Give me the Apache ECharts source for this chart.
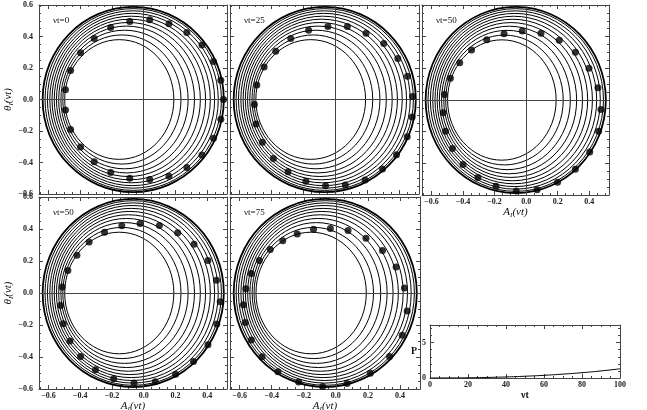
<!DOCTYPE html>
<html><head><meta charset="utf-8">
<script src="https://cdn.jsdelivr.net/npm/echarts@6/dist/echarts.min.js"></script>
<style>html,body{margin:0;padding:0;background:#fff}#c{width:647px;height:410px}</style>
</head><body><div id="c"></div>
<script>
// ---- data ----
// nested closed curves (outer -> inner): left crossing, right crossing, half height
const curveLeft  = [-0.637,-0.622,-0.607,-0.592,-0.578,-0.564,-0.550,-0.536,-0.522,-0.510,-0.498];
const curveRight = [0.505,0.490,0.470,0.447,0.420,0.390,0.357,0.320,0.280,0.235,0.190];
const curveTop   = [0.588,0.577,0.563,0.547,0.529,0.510,0.489,0.466,0.440,0.410,0.380];

const dotsVt0 = [[-0.088,0.496],[0.038,0.506],[0.159,0.481],[0.272,0.425],[0.367,0.346],[0.440,0.242],[0.486,0.122],[0.503,0.000],[0.486,-0.126],[0.440,-0.246],[0.367,-0.353],[0.272,-0.432],[0.159,-0.487],[0.038,-0.508],[-0.088,-0.500],[-0.208,-0.464],[-0.312,-0.395],[-0.398,-0.301],[-0.461,-0.190],[-0.493,-0.066],[-0.493,0.062],[-0.461,0.184],[-0.398,0.297],[-0.312,0.387],[-0.208,0.457]];
const dotsVt25 = [[-0.046,0.464],[0.076,0.464],[0.193,0.421],[0.304,0.355],[0.392,0.261],[0.453,0.147],[0.484,0.019],[0.482,-0.111],[0.451,-0.237],[0.384,-0.351],[0.296,-0.442],[0.187,-0.511],[0.063,-0.543],[-0.061,-0.547],[-0.184,-0.519],[-0.296,-0.459],[-0.388,-0.374],[-0.457,-0.271],[-0.497,-0.156],[-0.507,-0.032],[-0.492,0.092],[-0.446,0.207],[-0.373,0.306],[-0.279,0.387],[-0.167,0.440]];
const dotsVt50a = [[-0.025,0.436],[0.094,0.421],[0.210,0.378],[0.312,0.301],[0.398,0.201],[0.455,0.077],[0.474,-0.060],[0.459,-0.197],[0.403,-0.329],[0.312,-0.438],[0.199,-0.519],[0.069,-0.567],[-0.063,-0.575],[-0.191,-0.545],[-0.306,-0.490],[-0.400,-0.408],[-0.467,-0.306],[-0.511,-0.197],[-0.526,-0.081],[-0.518,0.034],[-0.480,0.138],[-0.421,0.235],[-0.346,0.316],[-0.250,0.380],[-0.140,0.419]];
const dotsVt50b = [[-0.023,0.435],[0.099,0.422],[0.214,0.376],[0.317,0.304],[0.405,0.203],[0.459,0.080],[0.482,-0.055],[0.461,-0.194],[0.405,-0.323],[0.314,-0.428],[0.201,-0.508],[0.073,-0.555],[-0.061,-0.563],[-0.189,-0.536],[-0.304,-0.479],[-0.398,-0.397],[-0.465,-0.300],[-0.507,-0.192],[-0.524,-0.078],[-0.514,0.038],[-0.478,0.141],[-0.421,0.236],[-0.344,0.319],[-0.247,0.380],[-0.138,0.420]];
const dotsVt75 = [[-0.139,0.399],[-0.034,0.403],[0.076,0.390],[0.188,0.342],[0.291,0.266],[0.376,0.162],[0.428,0.032],[0.445,-0.112],[0.414,-0.264],[0.335,-0.397],[0.215,-0.502],[0.070,-0.565],[-0.082,-0.584],[-0.232,-0.557],[-0.361,-0.492],[-0.460,-0.399],[-0.527,-0.293],[-0.565,-0.184],[-0.576,-0.074],[-0.561,0.027],[-0.527,0.122],[-0.477,0.203],[-0.409,0.272],[-0.331,0.327],[-0.241,0.369]];

const panelLabels = ['νt=0','νt=25','νt=50','νt=50','νt=75'];
const xMajorTicks = [-0.6,-0.4,-0.2,0,0.2,0.4];
const yMajorTicks = [-0.6,-0.4,-0.2,0,0.2,0.4,0.6];

const pTime   = [0,10,20,30,40,50,60,70,80,90,100];
const pValues = [0,0.01,0.03,0.08,0.15,0.25,0.38,0.55,0.75,1.0,1.3];
const pXTicks = [0,20,40,60,80,100];
const pYTicks = [0,5];

// ---- layout / styling ----
const X_MIN = -0.66, X_MAX = 0.525, Y_MIN = -0.6, Y_MAX = 0.6;
const frameColor = '#444';
const labelFont = {fontFamily:'Liberation Serif', fontSize:8, fontWeight:'bold', color:'#222'};
function minorList(a, b, step, majors) {
  const out = [];
  for (let v = a; v <= b + 1e-9; v += step) {
    const r = Math.round(v * 1000) / 1000;
    if (!majors.some(m => Math.abs(m - r) < 1e-6)) out.push(r);
  }
  return out;
}
const xMinorTicks = minorList(-0.65, 0.5, 0.05, xMajorTicks);
const yMinorTicks = minorList(-0.6, 0.6, 0.05, yMajorTicks);
const fmt = v => (v < 0 ? '−' : '') + Math.abs(v).toFixed(1);

const panels = [
  {grid:{left:39, top:5, width:188, height:189}, dots:dotsVt0, xl:false, yl:true},
  {grid:{left:230, top:5, width:189, height:189}, dots:dotsVt25, xl:false, yl:false},
  {grid:{left:422, top:5, width:187, height:190}, dots:dotsVt50a, xl:true, yl:false},
  {grid:{left:39, top:197, width:188, height:192}, dots:dotsVt50b, xl:true, yl:true},
  {grid:{left:230, top:197, width:190, height:192}, dots:dotsVt75, xl:true, yl:false}
];

const grids = [], xAxes = [], yAxes = [], series = [], titles = [];
const nameRich = {
  i:{fontFamily:'Liberation Serif', fontStyle:'italic', fontSize:11, color:'#111'},
  s:{fontFamily:'Liberation Serif', fontStyle:'italic', fontSize:7, color:'#111', padding:[6,0,0,0]}
};

function addBox(gi, xr, yr, xMaj, xMin, yMaj, yMin, xLab, yLab, xName, yName, xFmt, yFmt, xNameGap, yNameGap, xNameStyle, yNameStyle, yNameRotate) {
  const xi = xAxes.length, yi = yAxes.length;
  const common = (min, max) => ({gridIndex:gi, type:'value', min, max, splitLine:{show:false}, axisPointer:{show:false}});
  xAxes.push(Object.assign(common(xr[0], xr[1]), {
    position:'bottom',
    axisLine:{show:true, onZero:false, lineStyle:{color:frameColor, width:1}},
    axisTick:{show:true, inside:true, length:4, customValues:xMaj, lineStyle:{color:frameColor}},
    axisLabel:{show:xLab, customValues:xMaj, formatter:xFmt, margin:3, ...labelFont},
    name:xName || '', nameLocation:'middle', nameGap:xNameGap, nameTextStyle:xNameStyle
  }));
  xAxes.push(Object.assign(common(xr[0], xr[1]), {position:'bottom', axisLine:{show:false, onZero:false},
    axisTick:{show:true, inside:true, length:2, customValues:xMin, lineStyle:{color:frameColor}}, axisLabel:{show:false}}));
  xAxes.push(Object.assign(common(xr[0], xr[1]), {position:'top',
    axisLine:{show:true, onZero:false, lineStyle:{color:frameColor, width:1}},
    axisTick:{show:true, inside:true, length:4, customValues:xMaj, lineStyle:{color:frameColor}}, axisLabel:{show:false}}));
  xAxes.push(Object.assign(common(xr[0], xr[1]), {position:'top', axisLine:{show:false, onZero:false},
    axisTick:{show:true, inside:true, length:2, customValues:xMin, lineStyle:{color:frameColor}}, axisLabel:{show:false}}));
  yAxes.push(Object.assign(common(yr[0], yr[1]), {
    position:'left',
    axisLine:{show:true, onZero:false, lineStyle:{color:frameColor, width:1}},
    axisTick:{show:true, inside:true, length:4, customValues:yMaj, lineStyle:{color:frameColor}},
    axisLabel:{show:yLab, customValues:yMaj, formatter:yFmt, margin:6, ...labelFont},
    name:yName || '', nameLocation:'middle', nameGap:yNameGap, nameTextStyle:yNameStyle, nameRotate:yNameRotate
  }));
  yAxes.push(Object.assign(common(yr[0], yr[1]), {position:'left', axisLine:{show:false, onZero:false},
    axisTick:{show:true, inside:true, length:2, customValues:yMin, lineStyle:{color:frameColor}}, axisLabel:{show:false}}));
  yAxes.push(Object.assign(common(yr[0], yr[1]), {position:'right',
    axisLine:{show:true, onZero:false, lineStyle:{color:frameColor, width:1}},
    axisTick:{show:true, inside:true, length:4, customValues:yMaj, lineStyle:{color:frameColor}}, axisLabel:{show:false}}));
  yAxes.push(Object.assign(common(yr[0], yr[1]), {position:'right', axisLine:{show:false, onZero:false},
    axisTick:{show:true, inside:true, length:2, customValues:yMin, lineStyle:{color:frameColor}}, axisLabel:{show:false}}));
  return [xi, yi];
}

const curveData = curveLeft.map((l, i) => [l, curveRight[i], curveTop[i], i]);

panels.forEach((p, gi) => {
  grids.push(Object.assign({containLabel:false, outerBoundsMode:'none'}, p.grid));
  const [xi, yi] = addBox(gi, [X_MIN, X_MAX], [Y_MIN, Y_MAX], xMajorTicks, xMinorTicks, yMajorTicks, yMinorTicks,
    p.xl, p.yl,
    p.xl ? '{i|A}{s|I}{i|(νt)}' : '', p.yl ? '{i|θ}{s|I}{i|(νt)}' : '',
    fmt, fmt, 10, 22, {rich:nameRich}, {rich:nameRich}, 90);
  series.push({
    type:'custom', xAxisIndex:xi, yAxisIndex:yi, silent:true, animation:false,
    data:curveData,
    encode:{x:[0,1], y:2},
    renderItem:(params, api) => {
      const L = api.value(0), R = api.value(1), T = api.value(2), idx = api.value(3);
      const pL = api.coord([L, 0]), pR = api.coord([R, 0]), pT = api.coord([(L + R) / 2, T]);
      return {type:'ellipse', shape:{cx:(pL[0] + pR[0]) / 2, cy:pL[1], rx:(pR[0] - pL[0]) / 2, ry:pL[1] - pT[1]},
        style:{fill:null, stroke:'#000', lineWidth: idx === 0 ? 1.8 : 1}};
    }
  });
  series.push({
    type:'scatter', xAxisIndex:xi, yAxisIndex:yi, data:p.dots, symbol:'circle', symbolSize:7,
    itemStyle:{color:'#000'}, silent:true, animation:false, z:5,
    markLine:{silent:true, symbol:['none','none'], label:{show:false}, animation:false,
      lineStyle:{color:'#444', width:1, type:'solid'},
      data:[{xAxis:0}, {yAxis:0}]}
  });
  titles.push({text:panelLabels[gi], left:p.grid.left + 9, top:p.grid.top + 6,
    textStyle:{fontFamily:'Liberation Serif', fontSize:9, fontWeight:'normal', color:'#111'}});
});

// small P(νt) panel
const gP = grids.length;
grids.push({left:430, top:325, width:190, height:53, containLabel:false, outerBoundsMode:'none'});
const [pxi, pyi] = addBox(gP, [0, 100], [0, 7.5], pXTicks, minorList(5, 95, 5, pXTicks), pYTicks, minorList(1, 7, 1, pYTicks),
  true, true, 'νt', 'P', v => String(v), v => String(v), 12, 10,
  {fontFamily:'Liberation Serif', fontSize:10, fontWeight:'bold', color:'#111'},
  {fontFamily:'Liberation Serif', fontSize:10, fontWeight:'bold', color:'#111'}, 0);
yAxes[pyi].axisLabel.margin = 4;
series.push({type:'line', xAxisIndex:pxi, yAxisIndex:pyi, data:pTime.map((t, i) => [t, pValues[i]]),
  showSymbol:false, smooth:true, lineStyle:{color:'#000', width:1}, silent:true, animation:false});

const chart = echarts.init(document.getElementById('c'), null, {renderer:'canvas'});
chart.setOption({
  animation:false, backgroundColor:'#fff',
  title:titles, grid:grids, xAxis:xAxes, yAxis:yAxes, series:series
});
</script></body></html>
